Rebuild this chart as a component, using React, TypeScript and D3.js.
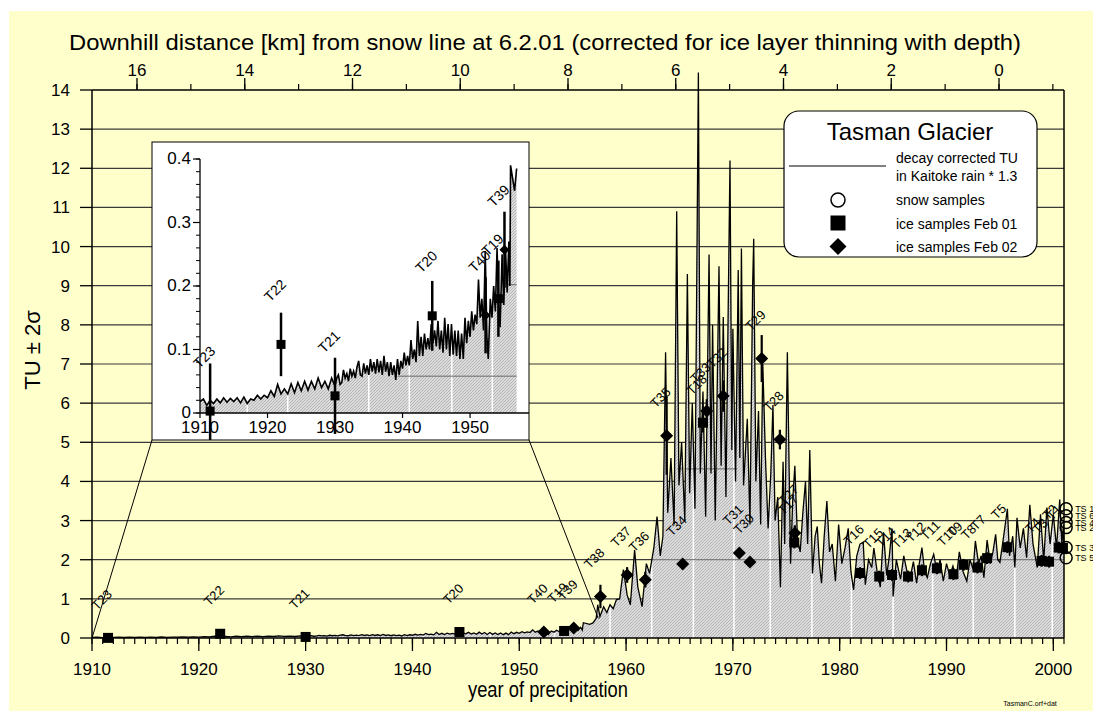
import React from 'react';
import * as d3 from 'd3';

const W = 1093;
const H = 711;

// ---------- DATA ----------
// decay corrected TU in Kaitoke rain * 1.3  [year, TU]
const tuSeries: [number, number][] = [
  [1910.0, 0.018], [1910.5, 0.022], [1911.0, 0.012], [1911.5, 0.02], [1912.0, 0.015], [1912.5, 0.022],
  [1913.0, 0.016], [1913.5, 0.024], [1914.0, 0.017], [1914.5, 0.023], [1915.0, 0.018], [1915.5, 0.024],
  [1916.0, 0.016], [1916.5, 0.025], [1917.0, 0.015], [1917.5, 0.022], [1918.0, 0.02], [1918.5, 0.028],
  [1919.0, 0.022], [1919.5, 0.028], [1920.0, 0.024], [1920.5, 0.035], [1921.0, 0.026], [1921.5, 0.045],
  [1922.0, 0.03], [1922.5, 0.038], [1923.0, 0.03], [1923.5, 0.046], [1924.0, 0.032], [1924.5, 0.048],
  [1925.0, 0.035], [1925.5, 0.05], [1926.0, 0.036], [1926.5, 0.05], [1927.0, 0.038], [1927.5, 0.055],
  [1928.0, 0.04], [1928.5, 0.05], [1929.0, 0.038], [1929.5, 0.055],
  [1930.0, 0.042], [1930.25, 0.055], [1930.5, 0.06], [1930.75, 0.045],
  [1931.0, 0.048], [1931.25, 0.068], [1931.5, 0.055], [1931.75, 0.062],
  [1932.0, 0.05], [1932.25, 0.07], [1932.5, 0.058], [1932.75, 0.066],
  [1933.0, 0.055], [1933.25, 0.072], [1933.5, 0.082], [1933.75, 0.06],
  [1934.0, 0.058], [1934.25, 0.078], [1934.5, 0.062], [1934.75, 0.075],
  [1935.0, 0.06], [1935.25, 0.085], [1935.5, 0.065], [1935.75, 0.08],
  [1936.0, 0.062], [1936.25, 0.085], [1936.5, 0.064], [1936.75, 0.082],
  [1937.0, 0.06], [1937.25, 0.09], [1937.5, 0.065], [1937.75, 0.08],
  [1938.0, 0.058], [1938.25, 0.08], [1938.5, 0.06], [1938.75, 0.075],
  [1939.0, 0.052], [1939.25, 0.085], [1939.5, 0.06], [1939.75, 0.082],
  [1940.0, 0.07], [1940.25, 0.095], [1940.5, 0.075], [1940.75, 0.09],
  [1941.0, 0.075], [1941.25, 0.115], [1941.5, 0.085], [1941.75, 0.1],
  [1942.0, 0.08], [1942.25, 0.145], [1942.5, 0.09], [1942.75, 0.12],
  [1943.0, 0.09], [1943.25, 0.125], [1943.5, 0.1], [1943.75, 0.118],
  [1944.0, 0.1], [1944.25, 0.14], [1944.5, 0.11], [1944.75, 0.13],
  [1945.0, 0.105], [1945.25, 0.145], [1945.5, 0.1], [1945.75, 0.13],
  [1946.0, 0.095], [1946.25, 0.15], [1946.5, 0.1], [1946.75, 0.14],
  [1947.0, 0.09], [1947.25, 0.14], [1947.5, 0.092], [1947.75, 0.13],
  [1948.0, 0.09], [1948.25, 0.13], [1948.5, 0.085], [1948.75, 0.125],
  [1949.0, 0.085], [1949.25, 0.15], [1949.5, 0.11], [1949.75, 0.145],
  [1950.0, 0.12], [1950.25, 0.16], [1950.5, 0.13], [1950.75, 0.155],
  [1951.0, 0.14], [1951.25, 0.21], [1951.5, 0.15], [1951.75, 0.18],
  [1952.0, 0.13], [1952.25, 0.255], [1952.5, 0.12], [1952.7, 0.085],
  [1953.0, 0.18], [1953.25, 0.15], [1953.5, 0.2], [1953.75, 0.16],
  [1954.0, 0.26], [1954.25, 0.17], [1954.45, 0.135], [1954.75, 0.25],
  [1955.0, 0.17], [1955.25, 0.26], [1955.5, 0.19], [1955.75, 0.27],
  [1955.9, 0.2], [1956.0, 0.39], [1956.6, 0.35], [1956.9, 0.385],
  [1957.2, 0.5], [1957.35, 0.85], [1957.55, 0.55], [1957.9, 0.8],
  [1958.2, 0.65], [1958.5, 0.85], [1958.8, 0.75], [1959.1, 0.98], [1959.4, 1.0], [1959.75, 1.75],
  [1960.1, 1.1], [1960.4, 0.85], [1960.8, 2.25], [1961.1, 1.3], [1961.5, 0.8], [1961.9, 1.9],
  [1962.2, 1.65], [1962.6, 2.3], [1962.9, 3.1], [1963.2, 2.1], [1963.45, 2.6], [1963.7, 7.3],
  [1963.9, 3.2], [1964.2, 4.6], [1964.5, 2.9], [1964.74, 10.9], [1964.95, 3.9], [1965.2, 5.0],
  [1965.5, 3.0], [1965.74, 9.3], [1965.95, 3.7], [1966.2, 6.0], [1966.45, 3.3], [1966.77, 14.45],
  [1966.95, 4.2], [1967.2, 6.3], [1967.45, 3.1], [1967.77, 9.8], [1967.95, 4.2], [1968.1, 8.0],
  [1968.35, 3.0], [1968.7, 9.5], [1968.9, 4.4], [1969.1, 8.2], [1969.35, 3.6], [1969.73, 12.2],
  [1969.9, 4.8], [1970.0, 7.9], [1970.25, 4.0], [1970.5, 9.4], [1970.65, 4.6], [1970.8, 9.95],
  [1971.0, 3.9], [1971.35, 5.6], [1971.6, 2.9], [1971.85, 9.0], [1971.95, 10.2], [1972.15, 4.0],
  [1972.4, 5.8], [1972.6, 2.9], [1972.8, 7.0], [1973.05, 4.6], [1973.3, 2.8], [1973.55, 4.2],
  [1973.75, 5.95], [1973.95, 3.0], [1974.2, 3.6], [1974.45, 1.3], [1974.7, 4.5], [1974.85, 2.4],
  [1975.1, 7.3], [1975.4, 1.9], [1975.6, 3.5], [1975.8, 4.4], [1976.05, 2.5], [1976.3, 2.2],
  [1976.55, 3.2], [1976.8, 4.0], [1977.0, 2.4], [1977.2, 4.8], [1977.45, 1.65], [1977.7, 2.6],
  [1977.9, 2.85], [1978.1, 1.9], [1978.3, 1.4], [1978.55, 2.6], [1978.8, 3.5], [1979.05, 2.2],
  [1979.3, 2.4], [1979.6, 1.45], [1979.9, 2.9], [1980.2, 1.9], [1980.5, 2.3], [1980.8, 2.8],
  [1981.05, 1.7], [1981.3, 1.23], [1981.6, 2.1], [1981.9, 2.4], [1982.2, 2.45], [1982.4, 1.36],
  [1982.7, 2.0], [1983.0, 1.8], [1983.2, 2.3], [1983.5, 1.7], [1983.8, 1.3], [1984.1, 2.7],
  [1984.4, 1.6], [1984.65, 2.1], [1984.9, 2.8], [1985.0, 1.06], [1985.3, 2.0], [1985.7, 1.5],
  [1986.0, 2.1], [1986.3, 1.7], [1986.6, 1.54], [1986.9, 1.95], [1987.2, 1.4], [1987.45, 1.9],
  [1987.7, 2.31], [1987.95, 1.7], [1988.2, 1.54], [1988.5, 1.9], [1988.8, 2.14], [1989.1, 1.7],
  [1989.4, 2.0], [1989.7, 1.45], [1990.0, 1.9], [1990.3, 1.6], [1990.6, 1.84], [1990.9, 1.5],
  [1991.2, 2.2], [1991.55, 1.7], [1991.9, 1.45], [1992.2, 2.0], [1992.5, 1.75], [1992.7, 2.48],
  [1993.0, 1.9], [1993.25, 2.1], [1993.5, 1.54], [1993.8, 2.5], [1994.1, 1.9], [1994.35, 2.2],
  [1994.6, 2.65], [1994.8, 2.0], [1995.0, 1.93], [1995.3, 2.5], [1995.7, 3.3], [1995.9, 2.1],
  [1996.2, 2.6], [1996.4, 1.8], [1996.6, 3.07], [1996.9, 2.3], [1997.2, 2.8], [1997.5, 2.05],
  [1997.8, 3.4], [1998.1, 2.4], [1998.5, 1.8], [1998.8, 3.16], [1999.1, 1.97], [1999.4, 3.33],
  [1999.7, 2.4], [2000.0, 3.16], [2000.3, 2.3], [2000.6, 3.54], [2000.8, 2.4], [2000.95, 2.9],
  [2001.0, 2.3],
];

// ice samples Feb 01 (squares)
const iceFeb01Names = ['T23', 'T22', 'T21', 'T20', 'T19', 'T18', 'T17', 'T16', 'T15', 'T14', 'T13', 'T12', 'T11', 'T10', 'T9', 'T8', 'T7', 'T5', 'T4', 'T3', 'T2', 'T1'];
const iceFeb01Years = [1911.5, 1922.0, 1930.0, 1944.4, 1954.2, 1967.2, 1975.75, 1981.9, 1983.7, 1984.9, 1986.4, 1987.7, 1989.1, 1990.65, 1991.6, 1992.9, 1993.8, 1995.7, 1998.9, 1999.6, 2000.5, 2000.9];
const iceFeb01TU = [0.003, 0.108, 0.027, 0.153, 0.18, 5.5, 2.44, 1.66, 1.57, 1.61, 1.57, 1.73, 1.78, 1.63, 1.87, 1.8, 2.04, 2.32, 1.97, 1.95, 2.31, 2.3];
const iceFeb01Err = [0.075, 0.05, 0.06, 0.055, 0.06, 0.25, 0.15, 0.15, 0.15, 0.15, 0.15, 0.15, 0.15, 0.15, 0.15, 0.15, 0.15, 0.15, 0.15, 0.15, 0.15, 0.15];

// ice samples Feb 02 (diamonds)
const iceFeb02Names = ['T40', 'T39', 'T38', 'T37', 'T36', 'T35', 'T34', 'T33', 'T32', 'T31', 'T30', 'T29', 'T28', 'T27'];
const iceFeb02Years = [1952.3, 1955.1, 1957.6, 1960.1, 1961.8, 1963.8, 1965.3, 1967.55, 1969.1, 1970.6, 1971.6, 1972.7, 1974.4, 1975.8];
const iceFeb02TU = [0.154, 0.257, 1.06, 1.61, 1.49, 5.17, 1.89, 5.8, 6.18, 2.17, 1.94, 7.14, 5.07, 2.68];
const iceFeb02Err = [0.06, 0.06, 0.3, 0.2, 0.2, 1.0, 0.1, 0.3, 0.4, 0.1, 0.1, 0.6, 0.25, 0.2];

// snow samples (circles)
const snowNames = ['TS 1', 'TS 6', 'TS 4', 'TS 2', 'TS 3', 'TS 5'];
const snowYears = [2001.2, 2001.2, 2001.2, 2001.2, 2001.2, 2001.2];
const snowTU = [3.3, 3.12, 2.95, 2.82, 2.31, 2.05];

// axis ticks
const yTickValues = d3.range(0, 15);
const xMajorTicks = [1910, 1920, 1930, 1940, 1950, 1960, 1970, 1980, 1990, 2000];
const xMinorTicks = d3.range(1910, 2002);
const kmMajorTicks = [0, 2, 4, 6, 8, 10, 12, 14, 16];
const kmMinorTicks = d3.range(-1, 17);
const insetYTicks = [0, 0.1, 0.2, 0.3, 0.4];
const insetYMinor = d3.range(0, 0.41, 0.02);
const insetXTicks = [1910, 1920, 1930, 1940, 1950];

// white breaks in the fill and faint guide lines within it
const fillBreakYears = [1917, 1923, 1935, 1941, 1947.3, 1953.3, 1958.5, 1962.4, 1966.3, 1970.1, 1973.5, 1977.4, 1981.1, 1985.0, 1988.7, 1992.5, 1996.4, 1999.9];
const fillGuides = [
  { tu: 2, from: 1957.5, to: 2001 },
  { tu: 4.32, from: 1964.8, to: 1970.4 },
];
const insetGuides = [
  { tu: 0.058, from: 1939.3, to: 1957.4 },
  { tu: 0.202, from: 1955.4, to: 1957.4 },
];

// ---------- LAYOUT ----------
const FONT = 'Liberation Sans, Arial, Helvetica, sans-serif';
const x = d3.scaleLinear().domain([1910, 2001]).range([92, 1064]);
const y = d3.scaleLinear().domain([0, 14]).range([638, 90]);
const km = d3.scaleLinear().domain([0, 16]).range([999, 137]);
const xi = d3.scaleLinear().domain([1910, 1957.4]).range([200, 520]);
const yi = d3.scaleLinear().domain([0, 0.4]).range([413, 159]);

const inset = { x0: 152, y0: 142, x1: 529, y1: 440 };

function Square({ cx, cy, s }: { cx: number; cy: number; s: number }) {
  return <rect x={cx - s / 2} y={cy - s / 2} width={s} height={s} fill="#000" />;
}
function Diamond({ cx, cy, r }: { cx: number; cy: number; r: number }) {
  return <path d={`M${cx},${cy - r}L${cx + r},${cy}L${cx},${cy + r}L${cx - r},${cy}Z`} fill="#000" />;
}

export default function App() {
  const area = d3.area<[number, number]>().x(d => x(d[0])).y0(y(0)).y1(d => y(d[1]));
  const line = d3.line<[number, number]>().x(d => x(d[0])).y(d => y(d[1]));
  const insetData = tuSeries.filter(d => d[0] <= 1957.0);
  const areaI = d3.area<[number, number]>().x(d => xi(d[0])).y0(yi(0)).y1(d => yi(d[1]));
  const lineI = d3.line<[number, number]>().x(d => xi(d[0])).y(d => yi(d[1]));

  const feb01 = iceFeb01Names.map((n, i) => ({ n, yr: iceFeb01Years[i], v: iceFeb01TU[i], e: iceFeb01Err[i] }));
  const feb02 = iceFeb02Names.map((n, i) => ({ n, yr: iceFeb02Years[i], v: iceFeb02TU[i], e: iceFeb02Err[i] }));
  const snow = snowNames.map((n, i) => ({ n, yr: snowYears[i], v: snowTU[i] }));
  const insetFeb01 = feb01.filter(d => d.yr < 1957);
  const insetFeb02 = feb02.filter(d => d.yr < 1957);

  return (
    <svg width={W} height={H} style={{ position: 'absolute', left: 0, top: 0 }} fontFamily={FONT}>
      <defs>
        <pattern id="hatch" width="3" height="3" patternUnits="userSpaceOnUse">
          <rect width="3" height="3" fill="#dcdcdc" />
          <path d="M0,3L3,0M-1,1L1,-1M2,4L4,2" stroke="#a4a4a4" strokeWidth="0.7" />
        </pattern>
        <clipPath id="mainArea"><path d={area(tuSeries) || ''} /></clipPath>
        <clipPath id="insetArea"><path d={areaI(insetData) || ''} /></clipPath>
        <clipPath id="insetPlot"><rect x={xi(1910)} y={inset.y0} width={xi(1957.4) - xi(1910)} height={inset.y1 - inset.y0} /></clipPath>
        <clipPath id="insetBox"><rect x={inset.x0} y={inset.y0} width={inset.x1 - inset.x0} height={inset.y1 - inset.y0} /></clipPath>
      </defs>

      {/* background */}
      <rect x={9} y={11} width={W - 9} height={H - 11} fill="#FFFFCC" />

      {/* gridlines */}
      {yTickValues.filter(v => v > 0 && v < 14).map(v => (
        <line key={'g' + v} x1={x(1910)} x2={x(2001)} y1={y(v)} y2={y(v)} stroke="#3a3a3a" strokeWidth={1.2} />
      ))}

      {/* filled area */}
      <path d={area(tuSeries) || ''} fill="url(#hatch)" />
      <g clipPath="url(#mainArea)">
        {fillBreakYears.map(yr => (
          <line key={'b' + yr} x1={x(yr)} x2={x(yr)} y1={y(0)} y2={y(15)} stroke="#fff" strokeWidth={1.5} />
        ))}
        {fillGuides.map((g, i) => (
          <line key={'fg' + i} x1={x(g.from)} x2={x(g.to)} y1={y(g.tu)} y2={y(g.tu)} stroke="#6a6a6a" strokeWidth={1} />
        ))}
      </g>
      <path d={line(tuSeries) || ''} fill="none" stroke="#000" strokeWidth={1.3} strokeLinejoin="miter" />

      {/* error bars & markers main */}
      {feb01.map(d => (
        <g key={'s' + d.n}>
          <line x1={x(d.yr)} x2={x(d.yr)} y1={y(d.v - d.e)} y2={y(d.v + d.e)} stroke="#000" strokeWidth={2.2} />
          <Square cx={x(d.yr)} cy={y(d.v)} s={10} />
        </g>
      ))}
      {feb02.map(d => (
        <g key={'d' + d.n}>
          <line x1={x(d.yr)} x2={x(d.yr)} y1={y(d.v - d.e)} y2={y(d.v + d.e)} stroke="#000" strokeWidth={2.2} />
          <Diamond cx={x(d.yr)} cy={y(d.v)} r={6.5} />
        </g>
      ))}
      {snow.map(d => (
        <circle key={'c' + d.n} cx={x(d.yr)} cy={y(d.v)} r={6} fill="none" stroke="#000" strokeWidth={1.5} />
      ))}
      {snow.map(d => (
        <text key={'ct' + d.n} x={x(d.yr) + 9} y={y(d.v) + 3.5} fontSize={9} fill="#000">{d.n}</text>
      ))}
      {[...feb01, ...feb02].map(d => (
        <text key={'l' + d.n} transform={`translate(${x(d.yr) - 11},${y(d.v) - 27}) rotate(-45)`} fontSize={13} fill="#000">{d.n}</text>
      ))}

      {/* axes frame */}
      <line x1={x(1910)} x2={x(2001)} y1={y(0)} y2={y(0)} stroke="#000" strokeWidth={1.5} />
      <line x1={x(1910)} x2={x(2001)} y1={y(14)} y2={y(14)} stroke="#000" strokeWidth={1.5} />
      <line x1={x(1910)} x2={x(1910)} y1={y(0)} y2={y(14)} stroke="#000" strokeWidth={1.5} />
      <line x1={x(2001)} x2={x(2001)} y1={y(0)} y2={y(14)} stroke="#000" strokeWidth={1.5} />

      {/* left axis */}
      {yTickValues.map(v => (
        <g key={'yt' + v}>
          <line x1={80} x2={x(1910)} y1={y(v)} y2={y(v)} stroke="#000" strokeWidth={1.3} />
          <text x={70} y={y(v) + 6} fontSize={17} textAnchor="end">{v}</text>
        </g>
      ))}
      <text transform={`translate(40,350) rotate(-90)`} fontSize={22} textAnchor="middle">TU ± 2σ</text>

      {/* bottom axis */}
      {xMinorTicks.map(v => (
        <line key={'xm' + v} x1={x(v)} x2={x(v)} y1={y(0)} y2={y(0) + 6} stroke="#000" strokeWidth={1.2} />
      ))}
      {xMajorTicks.map(v => (
        <g key={'xt' + v}>
          <line x1={x(v)} x2={x(v)} y1={y(0)} y2={y(0) + 13} stroke="#000" strokeWidth={1.3} />
          <text x={x(v)} y={675} fontSize={17} textAnchor="middle">{v}</text>
        </g>
      ))}
      <text x={548} y={697} fontSize={22} textAnchor="middle" textLength={160} lengthAdjust="spacingAndGlyphs">year of precipitation</text>
      <text x={1030} y={706} fontSize={7} textAnchor="middle">TasmanC.orf+dat</text>

      {/* top axis */}
      {kmMinorTicks.map(v => (
        <line key={'km' + v} x1={km(v)} x2={km(v)} y1={y(14) - 6} y2={y(14)} stroke="#000" strokeWidth={1.2} />
      ))}
      {kmMajorTicks.map(v => (
        <g key={'kt' + v}>
          <line x1={km(v)} x2={km(v)} y1={y(14) - 12} y2={y(14)} stroke="#000" strokeWidth={1.3} />
          <text x={km(v)} y={76} fontSize={17} textAnchor="middle">{v}</text>
        </g>
      ))}
      <text x={545} y={50} fontSize={22} textAnchor="middle" textLength={952} lengthAdjust="spacingAndGlyphs">
        Downhill distance [km] from snow line at 6.2.01 (corrected for ice layer thinning with depth)
      </text>

      {/* connectors */}
      <line x1={inset.x0} y1={inset.y1} x2={x(1910)} y2={y(0)} stroke="#000" strokeWidth={1} />
      <line x1={inset.x1} y1={inset.y1} x2={x(1957.4)} y2={y(0.5)} stroke="#000" strokeWidth={1} />

      {/* inset */}
      <rect x={inset.x0} y={inset.y0} width={inset.x1 - inset.x0} height={inset.y1 - inset.y0} fill="#fff" stroke="#000" strokeWidth={1} />
      <g clipPath="url(#insetPlot)">
        <path d={areaI(insetData) || ''} fill="url(#hatch)" />
        <g clipPath="url(#insetArea)">
          {fillBreakYears.filter(yr => yr < 1958).map(yr => (
            <line key={'ib' + yr} x1={xi(yr)} x2={xi(yr)} y1={yi(0)} y2={yi(0.5)} stroke="#fff" strokeWidth={1.5} />
          ))}
          {insetGuides.map((g, i) => (
            <line key={'ig' + i} x1={xi(g.from)} x2={xi(g.to)} y1={yi(g.tu)} y2={yi(g.tu)} stroke="#6a6a6a" strokeWidth={1} />
          ))}
        </g>
        <path d={lineI(insetData) || ''} fill="none" stroke="#000" strokeWidth={1.6} />
      </g>
      <g clipPath="url(#insetBox)">
        {insetFeb01.map(d => (
          <g key={'is' + d.n}>
            <line x1={xi(d.yr)} x2={xi(d.yr)} y1={yi(d.v - d.e)} y2={yi(d.v + d.e)} stroke="#000" strokeWidth={2.5} />
            <Square cx={xi(d.yr)} cy={yi(d.v)} s={9} />
          </g>
        ))}
        {insetFeb02.map(d => (
          <g key={'id' + d.n}>
            <line x1={xi(d.yr)} x2={xi(d.yr)} y1={yi(d.v - d.e)} y2={yi(d.v + d.e)} stroke="#000" strokeWidth={2.5} />
            <Diamond cx={xi(d.yr)} cy={yi(d.v)} r={5} />
          </g>
        ))}
      </g>
      {[...insetFeb01, ...insetFeb02].map(d => (
        <text key={'il' + d.n} transform={`translate(${xi(d.yr) - 11},${yi(d.v) - 42}) rotate(-45)`} fontSize={14} fill="#000">{d.n}</text>
      ))}
      <line x1={xi(1910)} x2={xi(1910)} y1={yi(0)} y2={yi(0.4)} stroke="#000" strokeWidth={1.3} />
      <line x1={xi(1910)} x2={inset.x1} y1={yi(0)} y2={yi(0)} stroke="#000" strokeWidth={1.3} />
      {insetYMinor.map((v, i) => (
        <line key={'iym' + i} x1={xi(1910) - 4} x2={xi(1910)} y1={yi(v)} y2={yi(v)} stroke="#000" strokeWidth={1} />
      ))}
      {insetYTicks.map(v => (
        <g key={'iyt' + v}>
          <line x1={xi(1910) - 7} x2={xi(1910)} y1={yi(v)} y2={yi(v)} stroke="#000" strokeWidth={1.2} />
          <text x={191} y={yi(v) + 5} fontSize={17} textAnchor="end">{v === 0 ? '0' : v.toFixed(1)}</text>
        </g>
      ))}
      {insetXTicks.map(v => (
        <g key={'ixt' + v}>
          <line x1={xi(v)} x2={xi(v)} y1={yi(0)} y2={yi(0) + 5} stroke="#000" strokeWidth={1.2} />
          <text x={xi(v)} y={433} fontSize={17} textAnchor="middle">{v}</text>
        </g>
      ))}

      {/* legend */}
      <rect x={784} y={111} width={253} height={146} rx={15} ry={15} fill="#fff" stroke="#000" strokeWidth={1.2} />
      <text x={910} y={140} fontSize={24} textAnchor="middle">Tasman Glacier</text>
      <line x1={789} x2={886} y1={166} y2={166} stroke="#808080" strokeWidth={2} />
      <text x={896} y={163} fontSize={14}>decay corrected TU</text>
      <text x={896} y={181} fontSize={14}>in Kaitoke rain * 1.3</text>
      <circle cx={838} cy={200} r={7} fill="#fff" stroke="#000" strokeWidth={1.5} />
      <text x={896} y={205} fontSize={14}>snow samples</text>
      <Square cx={838} cy={223} s={15} />
      <text x={896} y={229} fontSize={14}>ice samples Feb 01</text>
      <Diamond cx={838} cy={246.5} r={8.5} />
      <text x={896} y={252} fontSize={14}>ice samples Feb 02</text>
    </svg>
  );
}
